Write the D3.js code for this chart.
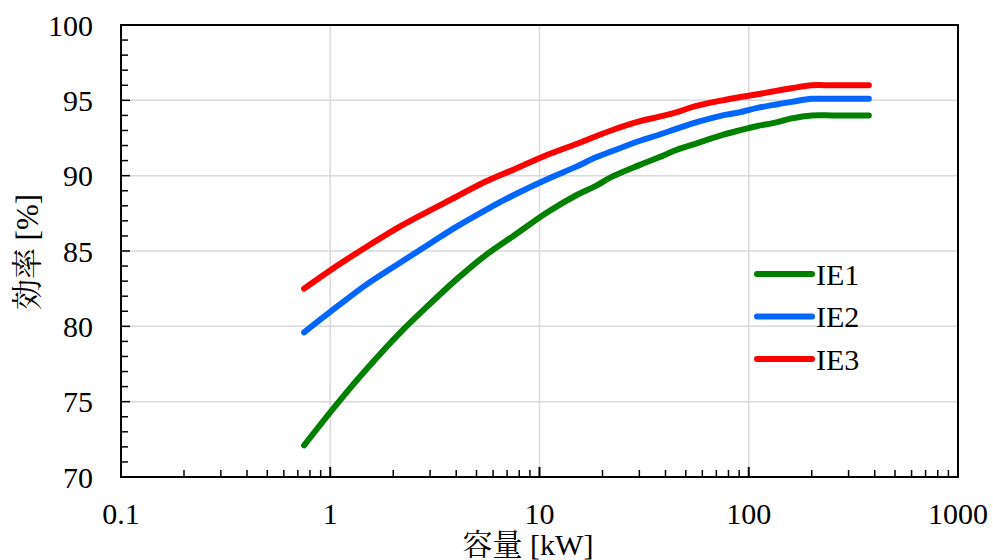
<!DOCTYPE html>
<html>
<head>
<meta charset="utf-8">
<script src="https://cdn.jsdelivr.net/npm/d3@7"></script>
<style>
    body { margin: 0; background: #fff; }
    svg { display: block; }
</style>
</head>
<body>
<svg id="chart" width="993" height="560"></svg>
<script>
// capacity [kW] and efficiency [%] per class
const capacity = [0.75, 1.1, 1.5, 2.2, 3, 4, 5.5, 7.5, 11, 15, 18.5, 22, 30, 37, 45, 55, 75, 90, 110, 132, 160, 200, 250, 315, 355, 375]
const ie1 = [72.1, 75.0, 77.2, 79.7, 81.5, 83.1, 84.7, 86.0, 87.6, 88.7, 89.3, 89.9, 90.7, 91.2, 91.7, 92.1, 92.7, 93.0, 93.3, 93.5, 93.8, 94.0, 94.0, 94.0, 94.0, 94.0]
const ie2 = [79.6, 81.4, 82.8, 84.3, 85.5, 86.6, 87.7, 88.7, 89.8, 90.6, 91.2, 91.6, 92.3, 92.7, 93.1, 93.5, 94.0, 94.2, 94.5, 94.7, 94.9, 95.1, 95.1, 95.1, 95.1, 95.1]
const ie3 = [82.5, 84.1, 85.3, 86.7, 87.7, 88.6, 89.6, 90.4, 91.4, 92.1, 92.6, 93.0, 93.6, 93.9, 94.2, 94.6, 95.0, 95.2, 95.4, 95.6, 95.8, 96.0, 96.0, 96.0, 96.0, 96.0]
const seriesNames = ["IE1", "IE2", "IE3"]
const seriesColors = ["#008000", "#0066ff", "#ff0000"]
const xTicks = [0.1, 1, 10, 100, 1000]
const yTicks = [70, 75, 80, 85, 90, 95, 100]

const SERIF = "Liberation Serif"
const JP = "Noto Serif CJK JP"

const margin = { top: 25, right: 35, bottom: 83, left: 121 }
const W = 993, H = 560
const width = W - margin.left - margin.right
const height = H - margin.top - margin.bottom

const svg = d3.select("#chart")
const g = svg.append("g").attr("transform", `translate(${margin.left},${margin.top})`)

const x = d3.scaleLog().domain([0.1, 1000]).range([0, width])
const y = d3.scaleLinear().domain([70, 100]).range([height, 0])

// gridlines
g.append("g").selectAll("line").data(xTicks.slice(1, -1)).join("line")
    .attr("x1", d => x(d)).attr("x2", d => x(d))
    .attr("y1", 0).attr("y2", height)
    .attr("stroke", "#d9d9d9").attr("stroke-width", 1.5)
g.append("g").selectAll("line").data(yTicks.slice(1, -1)).join("line")
    .attr("x1", 0).attr("x2", width)
    .attr("y1", d => y(d)).attr("y2", d => y(d))
    .attr("stroke", "#d9d9d9").attr("stroke-width", 1.5)

// minor ticks (inside)
const xMinor = []
for (let e = -1; e < 3; e++) for (let k = 2; k <= 9; k++) xMinor.push(k * Math.pow(10, e))
g.append("g").selectAll("line").data(xMinor).join("line")
    .attr("x1", d => x(d)).attr("x2", d => x(d))
    .attr("y1", height).attr("y2", height - 7)
    .attr("stroke", "#000").attr("stroke-width", 1.5)
g.append("g").selectAll("line").data(xTicks.slice(1, -1)).join("line")
    .attr("x1", d => x(d)).attr("x2", d => x(d))
    .attr("y1", height).attr("y2", height - 10)
    .attr("stroke", "#000").attr("stroke-width", 2)
const yMinor = d3.range(71, 100).filter(d => d % 5 !== 0)
g.append("g").selectAll("line").data(yMinor).join("line")
    .attr("x1", 0).attr("x2", 7)
    .attr("y1", d => y(d)).attr("y2", d => y(d))
    .attr("stroke", "#000").attr("stroke-width", 1.5)
g.append("g").selectAll("line").data(yTicks.slice(1, -1)).join("line")
    .attr("x1", 0).attr("x2", 9)
    .attr("y1", d => y(d)).attr("y2", d => y(d))
    .attr("stroke", "#000").attr("stroke-width", 1.5)

// frame
g.append("rect").attr("width", width).attr("height", height)
    .attr("fill", "none").attr("stroke", "#000").attr("stroke-width", 2)

// tick labels
g.append("g").selectAll("text").data(yTicks).join("text")
    .attr("x", -28).attr("y", d => y(d)).attr("dy", "0.35em")
    .attr("text-anchor", "end").attr("font-size", 30)
    .attr("font-family", SERIF)
    .text(d => d)
g.append("g").selectAll("text").data(xTicks).join("text")
    .attr("x", d => x(d)).attr("y", height + 47)
    .attr("text-anchor", "middle").attr("font-size", 30)
    .attr("font-family", SERIF)
    .text(d => d)

// axis titles (CJK part in a Mincho-like face, Latin in serif)
function title(sel, jp, rest) {
    sel.append("tspan").attr("font-family", JP).text(jp)
    sel.append("tspan").attr("font-family", SERIF).text(rest)
}
svg.append("text")
    .attr("x", 528).attr("y", 555)
    .attr("text-anchor", "middle").attr("font-size", 30)
    .call(title, "容量", " [kW]")
svg.append("text")
    .attr("transform", `translate(38,252) rotate(-90)`)
    .attr("text-anchor", "middle").attr("font-size", 31)
    .call(title, "効率", " [%]")

// lines
const series = [ie1, ie2, ie3]
const line = d3.line()
    .x((d, i) => x(capacity[i]))
    .y(d => y(d))
    .curve(d3.curveCatmullRom.alpha(0.5))
g.append("g").selectAll("path").data(series).join("path")
    .attr("d", line)
    .attr("fill", "none")
    .attr("stroke", (d, i) => seriesColors[i])
    .attr("stroke-width", 6)
    .attr("stroke-linecap", "round")
    .attr("stroke-linejoin", "round")

// legend
const legend = svg.append("g").attr("transform", "translate(757,274)")
const item = legend.selectAll("g").data(seriesNames).join("g")
    .attr("transform", (d, i) => `translate(0,${i * 42.5})`)
item.append("line")
    .attr("x1", 0).attr("x2", 55)
    .attr("stroke", (d, i) => seriesColors[i])
    .attr("stroke-width", 6).attr("stroke-linecap", "round")
item.append("text")
    .attr("x", 59).attr("dy", "0.35em")
    .attr("font-size", 30)
    .attr("font-family", SERIF)
    .text(d => d)
</script>
</body>
</html>
